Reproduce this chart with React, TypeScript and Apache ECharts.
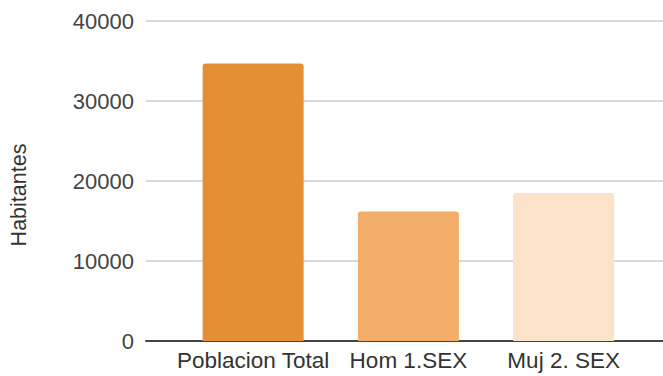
import React, { useEffect, useRef } from "react";
import * as echarts from "echarts";

const categories = ["Poblacion Total", "Hom 1.SEX", "Muj 2. SEX"];
const values = [34700, 16200, 18500];
const barColors = ["#E58F35", "#F2AD69", "#FAE3C8"];
const yTicks = [0, 10000, 20000, 30000, 40000];

export default function App() {
  const ref = useRef<HTMLDivElement>(null);
  useEffect(() => {
    if (!ref.current) return;
    const chart = echarts.init(ref.current, undefined, { renderer: "svg" });
    const font = "Arial, 'Liberation Sans', sans-serif";
    chart.setOption({
      animation: false,
      backgroundColor: "#ffffff",
      grid: { left: 143, right: 0, top: 21, bottom: 35, containLabel: false },
      xAxis: {
        type: "value",
        min: -0.69,
        max: 2.64,
        splitLine: { show: false },
        axisTick: { show: false },
        axisLine: { show: true, lineStyle: { color: "#444", width: 2 } },
        axisLabel: {
          customValues: categories.map((_, i) => i),
          formatter: (v: number) => categories[Math.round(v)] ?? "",
          color: "#333",
          fontSize: 22.5,
          fontFamily: font,
          margin: 8,
        },
      },
      yAxis: {
        type: "value",
        min: yTicks[0],
        max: yTicks[yTicks.length - 1],
        interval: 10000,
        name: "Habitantes",
        nameLocation: "middle",
        nameGap: 116,
        nameRotate: 90,
        nameTextStyle: { color: "#333", fontSize: 21.5, fontFamily: font, padding: [0, 28, 0, 0] },
        axisLine: { show: false },
        axisTick: { show: false },
        splitLine: { show: true, lineStyle: { color: "#cccccc", width: 1.5 } },
        axisLabel: {
          color: "#444",
          fontSize: 22,
          fontFamily: font,
          margin: 12,
          formatter: (v: number) => String(v),
        },
      },
      series: [
        {
          type: "bar",
          barWidth: 101,
          data: values.map((v, i) => ({
            value: [i, v],
            itemStyle: { color: barColors[i], borderRadius: [3, 3, 0, 0] },
          })),
        },
      ],
    });
    return () => chart.dispose();
  }, []);
  return (
    <div
      ref={ref}
      style={{ position: "fixed", left: 0, top: 0, width: 663, height: 376, background: "#fff" }}
    />
  );
}
